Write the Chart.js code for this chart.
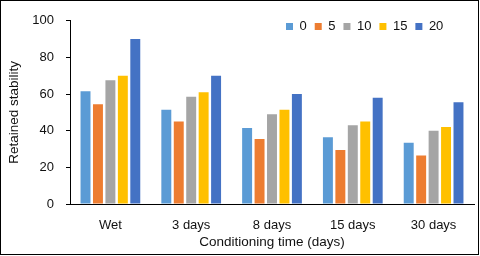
<!DOCTYPE html>
<html>
<head>
<meta charset="utf-8">
<script src="https://cdn.jsdelivr.net/npm/chart.js@4"></script>
<style>
  body { margin: 0; background: #fff; }
  #frame { width: 477px; height: 253px; border: 1px solid #000; }
  #chart { display: block; }
</style>
</head>
<body>
<div id="frame"><canvas id="chart" width="477" height="253"></canvas></div>
<script>
// data
const categories = ["Wet", "3 days", "8 days", "15 days", "30 days"];
const seriesNames = ["0", "5", "10", "15", "20"];
const s0 = [61.5, 51.5, 41.5, 36.5, 33.5];
const s5 = [54.5, 45, 35.5, 29.5, 26.5];
const s10 = [67.5, 58.5, 49, 43, 40];
const s15 = [70, 61, 51.5, 45, 42];
const s20 = [90, 70, 60, 58, 55.5];
const yTicks = [0, 20, 40, 60, 80, 100];

const colors = ["#5B9BD5", "#ED7D31", "#A5A5A5", "#FFC000", "#4472C4"];
const FONT = { family: "'Liberation Sans', Arial, sans-serif", size: 13 };
const TITLE_FONT = { family: "'Liberation Sans', Arial, sans-serif", size: 13.5 };
const INK = "#111";

// legend sits inside the plot, top right, and takes no room from it
const legendPlace = {
  id: "legendPlace",
  beforeLayout(chart) {
    const lg = chart.legend;
    if (!lg || lg._noRoom) return;
    const fit = lg.fit.bind(lg);
    lg.fit = function () {
      fit();
      this._realHeight = this.height;
      this.height = 0;
    };
    lg._noRoom = true;
  },
  afterLayout(chart) {
    const lg = chart.legend;
    if (!lg || !lg.lineWidths) return;
    lg.right = 285 + lg.lineWidths[0];
    lg.left = lg.right - lg.width;
    lg.top = 11;
    lg.height = lg._realHeight;
    lg.bottom = lg.top + lg.height;
  },
};

const seriesData = [s0, s5, s10, s15, s20];

new Chart(document.getElementById("chart"), {
  type: "bar",
  data: {
    labels: categories,
    datasets: seriesNames.map((name, i) => ({
      label: name,
      data: seriesData[i],
      backgroundColor: colors[i],
      borderWidth: 0,
      categoryPercentage: 0.77,
      barPercentage: 0.8,
    })),
  },
  options: {
    responsive: false,
    animation: false,
    layout: { padding: { left: 5, right: 4, top: 8, bottom: 0 } },
    scales: {
      x: {
        grid: { display: false },
        border: { display: true, color: "#000", width: 1 },
        ticks: { color: INK, font: FONT, padding: 6, maxRotation: 0 },
        title: {
          display: true,
          text: "Conditioning time (days)",
          color: INK,
          font: TITLE_FONT,
          padding: { top: 0, bottom: 4 },
        },
        afterFit: (s) => { s.height = 50; },
      },
      y: {
        min: 0,
        max: 100,
        afterBuildTicks: (s) => { s.ticks = yTicks.map((v) => ({ value: v })); },
        grid: {
          display: true,
          drawOnChartArea: false,
          drawTicks: true,
          tickLength: 4,
          color: "#000",
        },
        border: { display: true, color: "#000", width: 1 },
        ticks: { color: INK, font: FONT, padding: 12 },
        title: {
          display: true,
          text: "Retained stability",
          color: INK,
          font: TITLE_FONT,
          padding: 0,
        },
        afterFit: (s) => { s.width = 64; },
      },
    },
    plugins: {
      legend: {
        position: "top",
        align: "end",
        labels: {
          color: INK,
          font: FONT,
          boxWidth: 7,
          boxHeight: 7,
          padding: 8,
        },
      },
      tooltip: { enabled: false },
    },
  },
  plugins: [legendPlace],
});
</script>
</body>
</html>
